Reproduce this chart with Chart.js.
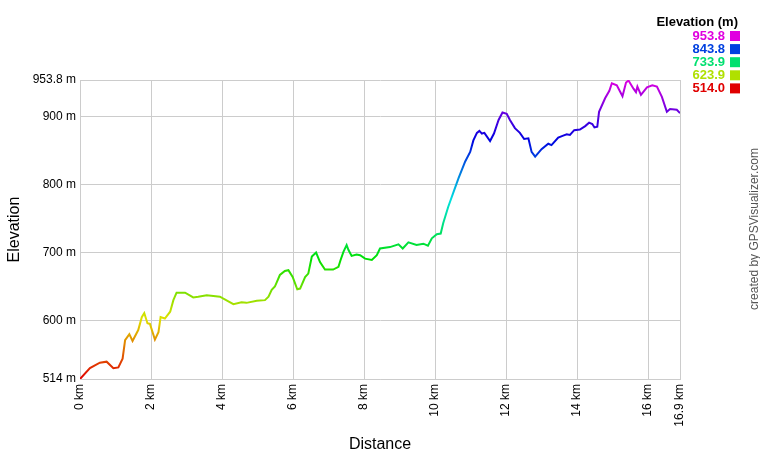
<!DOCTYPE html>
<html>
<head>
<meta charset="utf-8">
<script src="https://cdn.jsdelivr.net/npm/chart.js@4.4.0/dist/chart.umd.min.js"></script>
<style>
  html, body { margin: 0; padding: 0; background: #fff; }
  #wrap { width: 760px; height: 460px; }
</style>
</head>
<body>
<div id="wrap"><canvas id="perfil" width="760" height="460"></canvas></div>
<script>
// distance (km) and elevation (m)
const distKm = [0, 0.28, 0.56, 0.75, 0.94, 1.08, 1.2, 1.27, 1.39, 1.48, 1.64, 1.74, 1.81, 1.9, 1.97,
  2.11, 2.21, 2.27, 2.39, 2.54, 2.63, 2.72, 2.96, 3.19, 3.33, 3.57, 3.94, 4.32, 4.55, 4.69, 4.98,
  5.21, 5.31, 5.4, 5.49, 5.63, 5.77, 5.87, 5.99, 6.12, 6.2, 6.34, 6.43, 6.53, 6.65, 6.76, 6.9,
  7.13, 7.28, 7.34, 7.42, 7.51, 7.56, 7.65, 7.79, 7.89, 8.03, 8.22, 8.36, 8.45, 8.73, 8.97, 9.09,
  9.25, 9.48, 9.67, 9.8, 9.91, 10.05, 10.16, 10.23, 10.37, 10.52, 10.66, 10.85, 10.99, 11.08,
  11.18, 11.25, 11.32, 11.39, 11.55, 11.66, 11.79, 11.9, 12.02, 12.11, 12.25, 12.39, 12.51, 12.63,
  12.72, 12.82, 13.0, 13.19, 13.28, 13.47, 13.61, 13.71, 13.8, 13.92, 14.08, 14.23, 14.34, 14.43,
  14.49, 14.57, 14.62, 14.79, 14.91, 14.98, 15.12, 15.28, 15.38, 15.45, 15.59, 15.66, 15.7, 15.8,
  15.97, 16.12, 16.25, 16.39, 16.53, 16.62, 16.81, 16.9];
const elevM = [514, 530, 538, 539.5, 530, 531, 544, 571, 580, 570, 586, 605, 611, 596, 595,
  572, 583, 605, 603, 613, 630, 641, 641, 634, 635, 637, 635, 624, 627, 626, 629,
  630, 635, 645, 650, 667, 673, 674, 664, 646, 647, 664, 669, 694, 700, 686, 675,
  675, 679, 689, 701, 711, 704, 695, 697, 696, 691, 689, 696, 706, 708, 712, 706,
  715, 711, 713, 710, 721, 727, 728, 743, 767, 789, 809, 834, 848, 865,
  876, 879, 875, 876, 864, 875, 895, 906, 904, 895, 883, 876, 867, 868,
  848, 841, 852, 860, 858, 869, 872, 874, 873, 880, 881, 886, 891, 889,
  884, 885, 907, 927, 938, 949, 946, 930, 950, 953, 941, 936, 944, 932,
  943, 946, 944, 929, 907, 911, 910, 905];

const xTicks = [0, 2, 4, 6, 8, 10, 12, 14, 16, 16.9];
const yTicks = [514, 600, 700, 800, 900, 953.8];
const legendVals = ['953.8', '843.8', '733.9', '623.9', '514.0'];
const legendCores = ['#e000e0', '#0040e0', '#00e070', '#b0e000', '#e00000'];

const elevMin = 514, elevMax = 953.8;

Chart.defaults.font.family = "'Liberation Sans', Arial, sans-serif";
Chart.defaults.color = '#000';

// gradiente vertical pela altitude (vermelho -> magenta)
function corGradiente(ctx) {
  const chart = ctx.chart;
  const area = chart.chartArea;
  if (!area) return '#e00000';
  const g = chart.ctx.createLinearGradient(0, area.bottom, 0, area.top);
  for (let i = 0; i <= 10; i++) {
    g.addColorStop(i / 10, `hsl(${i * 30}, 100%, 44%)`);
  }
  return g;
}

const extras = {
  id: 'extras',
  afterDraw(chart) {
    const c = chart.ctx;
    c.save();
    // legenda
    c.textBaseline = 'middle';
    c.textAlign = 'right';
    c.fillStyle = '#000';
    c.font = "bold 13px 'Liberation Sans', Arial, sans-serif";
    c.fillText('Elevation (m)', 738, 22);
    legendVals.forEach((v, i) => {
      const y = 36 + i * 13.1;
      c.fillStyle = legendCores[i];
      c.fillText(v, 725, y);
      c.fillRect(730, y - 5, 10, 10);
    });
    // credito
    c.translate(755, 229);
    c.rotate(-Math.PI / 2);
    c.textAlign = 'center';
    c.fillStyle = '#555';
    c.font = "12px 'Liberation Sans', Arial, sans-serif";
    c.fillText('created by GPSVisualizer.com', 0, 0);
    c.restore();
  }
};

new Chart(document.getElementById('perfil'), {
  type: 'line',
  data: {
    datasets: [{
      data: distKm.map((d, i) => ({ x: d, y: elevM[i] })),
      borderColor: corGradiente,
      borderWidth: 2,
      pointRadius: 0,
      tension: 0,
      fill: false
    }]
  },
  options: {
    responsive: false,
    animation: false,
    devicePixelRatio: 1,
    layout: { padding: { top: 80, right: 80, left: 0, bottom: 0 } },
    plugins: { legend: { display: false }, tooltip: { enabled: false } },
    scales: {
      x: {
        type: 'linear',
        min: 0,
        max: 16.9,
        afterBuildTicks: s => { s.ticks = xTicks.map(v => ({ value: v })); },
        afterFit: s => { s.height = 81; },
        grid: { color: '#cccccc', drawTicks: false },
        border: { color: '#cccccc' },
        ticks: {
          autoSkip: false,
          minRotation: 90, maxRotation: 90, padding: 5,
          font: { size: 12 },
          callback: v => v + ' km'
        },
        title: { display: true, text: 'Distance', font: { size: 16 }, padding: { top: 0, bottom: 6 } }
      },
      y: {
        min: elevMin,
        max: elevMax,
        afterBuildTicks: s => { s.ticks = yTicks.map(v => ({ value: v })); },
        afterFit: s => { s.width = 80; },
        grid: { color: '#cccccc', drawTicks: false },
        border: { color: '#cccccc' },
        ticks: { autoSkip: false, padding: 4, font: { size: 12 }, callback: v => v + ' m' },
        title: { display: true, text: 'Elevation', font: { size: 16 }, padding: { top: 5, bottom: 0 } }
      }
    }
  },
  plugins: [extras]
});
</script>
</body>
</html>
